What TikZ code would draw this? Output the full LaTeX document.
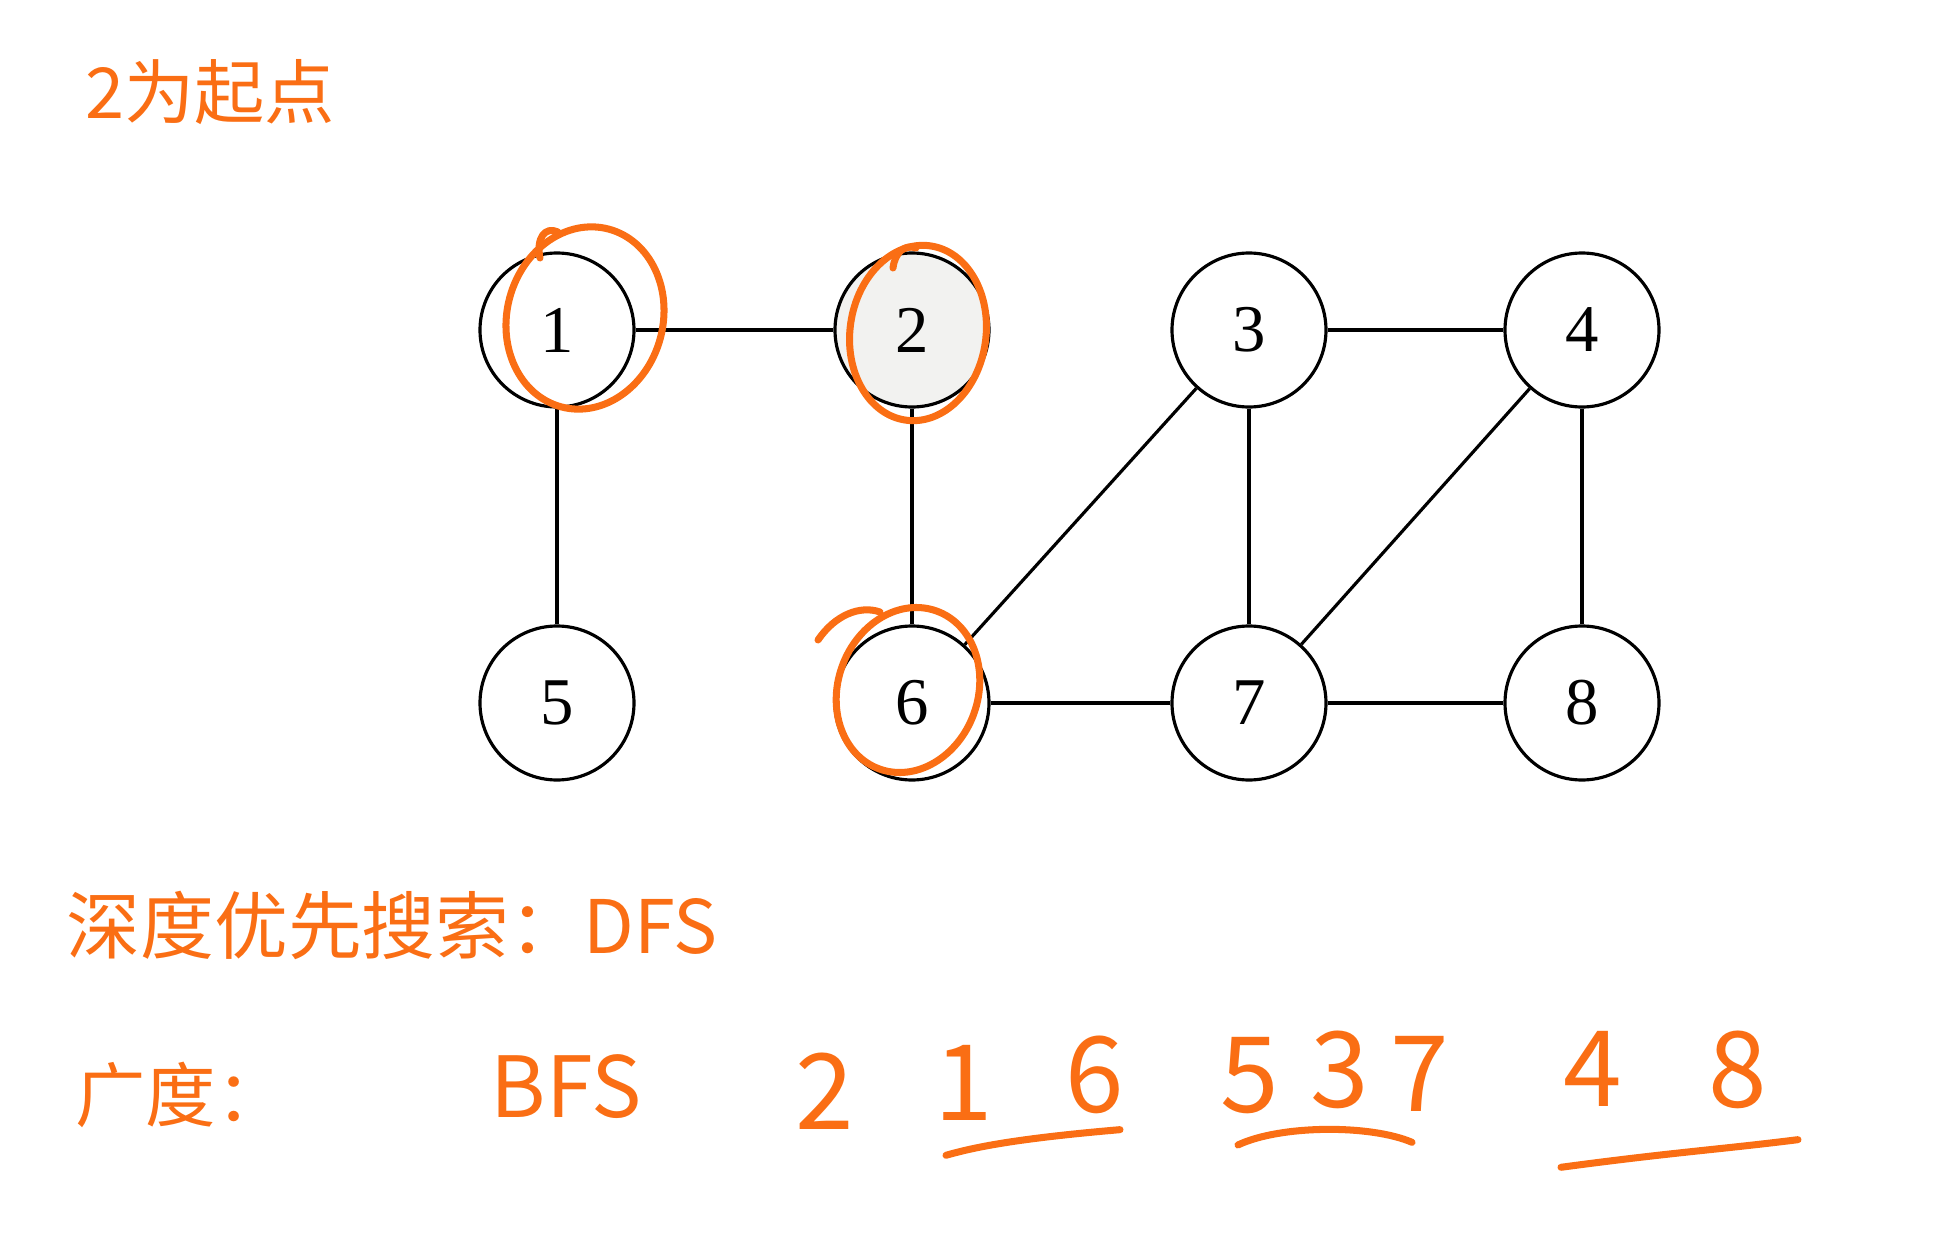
\documentclass[tikz,border=0pt]{standalone}
\usepackage{fontspec}
\setmainfont{Liberation Serif}
\newfontfamily\hand{Noto Sans CJK SC}
\usepackage{tikz}
\usetikzlibrary{positioning,calc}
\definecolor{penOrange}{RGB}{250,110,20}
\definecolor{nodeGray}{RGB}{242,242,240}

\begin{document}
\begin{tikzpicture}[x=0.1mm,y=-0.1mm,
  v/.style={draw,circle,line width=0.9pt,minimum size=15.4mm,inner sep=0pt,font=\fontsize{19}{20}\selectfont},
  e/.style={line width=0.9pt},
  pen/.style={draw=penOrange,line width=2pt,line cap=round,line join=round},
  note/.style={text=penOrange,inner sep=0pt,font=\hand\fontsize{20}{22}\selectfont},
  qnum/.style={text=penOrange,inner sep=0pt,font=\hand\fontsize{30}{32}\selectfont}]
\useasboundingbox (0,0) rectangle (1951,1240);
% graph
\node[v] (v1) at (557,330) {1};
\node[v,fill=nodeGray] (v2) at (912,330) {2};
\node[v] (v3) at (1249,330) {3};
\node[v] (v4) at (1582,330) {4};
\node[v] (v5) at (557,703) {5};
\node[v] (v6) at (912,703) {6};
\node[v] (v7) at (1249,703) {7};
\node[v] (v8) at (1582,703) {8};
\draw[e] (v1) -- (v2);
\draw[e] (v1) -- (v5);
\draw[e] (v2) -- (v6);
\draw[e] (v3) -- (v4);
\draw[e] (v3) -- (v6);
\draw[e] (v3) -- (v7);
\draw[e] (v4) -- (v7);
\draw[e] (v4) -- (v8);
\draw[e] (v6) -- (v7);
\draw[e] (v7) -- (v8);
% circled marks
\draw[pen,rotate around={-15:(585,318)}] (585,318) ellipse (78 and 92);
\draw[pen] (540,258) .. controls (536,238) and (545,226) .. (558,232);
\draw[pen,rotate around={-8:(918,333)}] (918,333) ellipse (68 and 88);
\draw[pen] (893,268) .. controls (895,252) and (905,244) .. (916,248);
\draw[pen,rotate around={-20:(908,690)}] (908,690) ellipse (70 and 84);
\draw[pen] (818,640) .. controls (835,615) and (860,605) .. (880,612);
% notes
\node[note] (start) at (210,92) {2为起点};
\node[note,anchor=west,font=\hand\fontsize{21}{23}\selectfont] (dfs) at (66,925) {深度优先搜索：DFS};
\node[note,anchor=west] (bfsl) at (75,1095) {广度：};
\node[note,font=\hand\fontsize{24}{26}\selectfont] (bfs) at (566,1087) {BFS};
\node[qnum] (b2) at (825,1091) {2};
\node[qnum] (b1) at (964,1083) {1};
\node[qnum] (b6) at (1095,1075) {6};
\node[qnum] (b5) at (1250,1076) {5};
\node[qnum] (b3) at (1340,1070) {3};
\node[qnum] (b7) at (1420,1074) {7};
\node[qnum] (b4) at (1593,1069) {4};
\node[qnum] (b8) at (1738,1070) {8};
% underlines
\draw[pen] ($(b1.south)+(-18,34)$) .. controls ($(b1.south)+(10,26)$) and ($(b6.south)+(-80,24)$) .. ($(b6.south)+(25,15)$);
\draw[pen] ($(b5.south)+(-12,30)$) .. controls ($(b5.south)+(30,10)$) and ($(b7.south)+(-50,12)$) .. ($(b7.south)+(-8,30)$);
\draw[pen] ($(b4.south)+(-32,60)$) .. controls ($(b4.south)+(80,45)$) and ($(b8.south)+(-20,40)$) .. ($(b8.south)+(60,30)$);
\end{tikzpicture}
\end{document}
